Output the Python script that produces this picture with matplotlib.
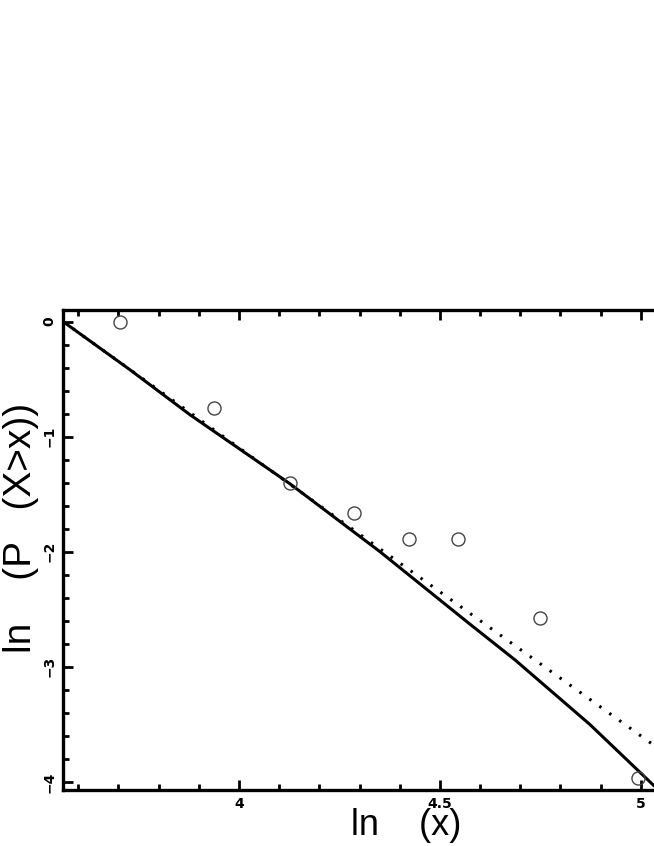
import matplotlib
matplotlib.use("Agg")
import matplotlib.pyplot as plt
from matplotlib.ticker import MultipleLocator

# empirical points
ln_x = [3.704, 3.938, 4.127, 4.286, 4.423, 4.545, 4.749, 4.993]
ln_p = [0.00, -0.75, -1.40, -1.66, -1.89, -1.89, -2.58, -3.97]

# fitted curve (solid)
fit_x = [3.562, 3.729, 3.878, 4.127, 4.351, 4.575, 4.687, 4.873, 5.032]
fit_y = [0.00, -0.42, -0.81, -1.41, -2.00, -2.63, -2.94, -3.50, -4.03]

# straight reference line (dotted)
line_x = [3.562, 5.10]
line_y = [0.00, -3.85]

xticks = [4, 4.5, 5]
xtick_labels = ["4", "4.5", "5"]
yticks = [0, -1, -2, -3, -4]
ytick_labels = ["0", "\u22121", "\u22122", "\u22123", "\u22124"]

fig = plt.figure(figsize=(6.54, 8.46), dpi=100)
# right side of the axes runs past the figure edge, as in the cropped original
ax = fig.add_axes([63 / 654, 56 / 846, 618 / 654, 480 / 846])

ax.plot(line_x, line_y, color="black", lw=2.2, linestyle=(0, (0.8, 3.2)))
ax.plot(fit_x, fit_y, color="black", lw=2.2)
ax.plot(ln_x, ln_p, "o", ms=9.4, mfc="none", mec="#444444", mew=1.0)

ax.set_xlim(3.562, 5.1)
ax.set_ylim(-4.07, 0.1)

ax.set_xticks(xticks)
ax.set_xticklabels(xtick_labels, fontsize=10, fontweight="bold")
ax.set_yticks(yticks)
ax.set_yticklabels(ytick_labels, fontsize=10, fontweight="bold",
                   rotation=90, va="center")
ax.xaxis.set_minor_locator(MultipleLocator(0.1))
ax.yaxis.set_minor_locator(MultipleLocator(0.2))
ax.tick_params(which="both", direction="in", top=True, right=True, width=2)
ax.tick_params(which="major", length=7, pad=5)
ax.tick_params(which="minor", length=4)

for s in ax.spines.values():
    s.set_linewidth(2.4)

ax.set_xlabel("ln    (x)", fontsize=26, family="Liberation Sans")
ax.xaxis.set_label_coords(0.555, -0.038, transform=ax.transAxes)
ax.xaxis.label.set_va("top")
ax.set_ylabel("ln    (P   (X>x))", fontsize=28, family="Liberation Sans")
ax.yaxis.set_label_coords(-0.068, 0.546, transform=ax.transAxes)
ax.yaxis.label.set_va("center")

fig.savefig("out.png", dpi=100)
